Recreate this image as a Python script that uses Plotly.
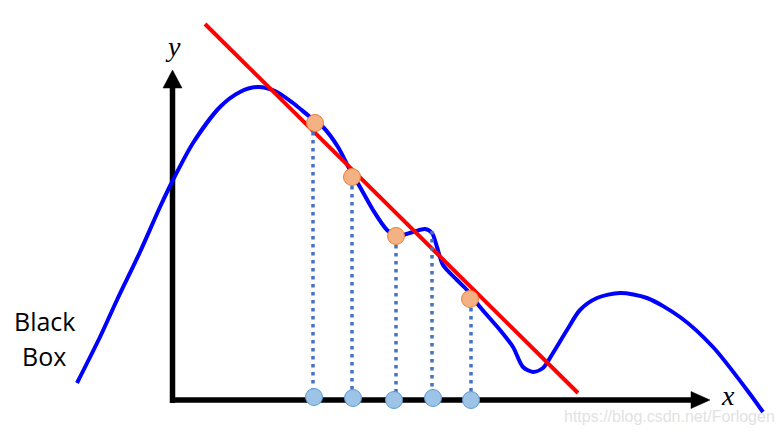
import plotly.graph_objects as go

# Black-box function curve (pixel-space coordinates of the diagram)
curve_x = [77, 100, 117, 140, 160, 173, 193, 220, 240, 258, 275, 293, 310, 323, 338, 350, 360, 373, 387,
           397, 413, 425, 432, 437, 443, 457, 467, 480, 500, 513, 523, 533, 543, 553, 567, 580, 597, 620,
           647, 680, 713, 747, 763]
curve_y = [383, 337, 300, 252, 207, 180, 143, 107, 92, 87, 91, 103, 117, 127, 147, 170, 187, 210, 230,
           236, 232, 229, 233, 247, 265, 280, 290, 307, 330, 347, 367, 372, 368, 353, 330, 310, 298, 293,
           298, 317, 347, 390, 412]

# Fitted straight line
line_x = [205, 578]
line_y = [24, 393]

# Sampled points on the curve
sample_x = [313, 352, 396, 432, 471]
sample_top = [124, 178, 237, 231, 300]
orange_x = [315, 352, 396, 470]
orange_y = [123, 177, 236, 299]
axis_pts_x = [314, 353, 394, 433, 471]
axis_pts_y = [397, 398, 400, 398, 400]
axis_y0 = 400

fig = go.Figure()

# Axes
fig.add_trace(go.Scatter(x=[172.5, 172.5], y=[axis_y0 + 3, 85], mode="lines",
                         line=dict(color="black", width=5.5), hoverinfo="skip"))
fig.add_trace(go.Scatter(x=[170, 694], y=[axis_y0, axis_y0], mode="lines",
                         line=dict(color="black", width=5.5), hoverinfo="skip"))
# Arrow heads
fig.add_trace(go.Scatter(x=[163, 172.5, 182, 163], y=[88, 70, 88, 88], mode="lines", fill="toself",
                         fillcolor="black", line=dict(color="black", width=0.5), hoverinfo="skip"))
fig.add_trace(go.Scatter(x=[691, 710, 691, 691], y=[391.5, 400, 408.5, 391.5], mode="lines", fill="toself",
                         fillcolor="black", line=dict(color="black", width=0.5), hoverinfo="skip"))

# Curve
fig.add_trace(go.Scatter(x=curve_x, y=curve_y, mode="lines",
                         line=dict(color="#0000FF", width=4, shape="spline", smoothing=0.8),
                         hoverinfo="skip"))
# Red line
fig.add_trace(go.Scatter(x=line_x, y=line_y, mode="lines",
                         line=dict(color="#FF0000", width=4), hoverinfo="skip"))

# Dotted drop lines
for sx, st in zip(sample_x, sample_top):
    fig.add_trace(go.Scatter(x=[sx, sx], y=[st, axis_y0 - 6], mode="lines",
                             line=dict(color="#4472C4", width=3.5, dash="3.5px,4.5px"), hoverinfo="skip"))

# Orange points
fig.add_trace(go.Scatter(x=orange_x, y=orange_y, mode="markers",
                         marker=dict(size=17, color="#F4B183", line=dict(color="#ED7D31", width=1)),
                         hoverinfo="skip"))
# Blue points on axis
fig.add_trace(go.Scatter(x=axis_pts_x, y=axis_pts_y, mode="markers",
                         marker=dict(size=17, color="#9DC3E6", line=dict(color="#5B9BD5", width=1)),
                         hoverinfo="skip"))

annotations = [
    dict(x=173, y=46, text="<i>y</i>", showarrow=False,
         font=dict(family="Liberation Serif", size=28, color="black")),
    dict(x=728, y=395, text="<i>x</i>", showarrow=False,
         font=dict(family="Liberation Serif", size=28, color="black")),
    dict(x=44, y=321, text="Black", showarrow=False,
         font=dict(family="Open Sans", size=25, color="black")),
    dict(x=44, y=356, text="Box", showarrow=False,
         font=dict(family="Open Sans", size=25, color="black")),
    dict(x=669, y=416, text="https://blog.csdn.net/Forlogen", showarrow=False,
         font=dict(family="Liberation Sans", size=16, color="#E2E2E2")),
]

fig.update_layout(
    width=780, height=433,
    margin=dict(l=0, r=0, t=0, b=0),
    paper_bgcolor="white", plot_bgcolor="white",
    showlegend=False,
    xaxis=dict(range=[0, 780], visible=False, fixedrange=True),
    yaxis=dict(range=[433, 0], visible=False, fixedrange=True),
    annotations=annotations,
)

fig.write_html("out.html", config={"displayModeBar": False},
               post_script="document.body.style.margin='0';")
